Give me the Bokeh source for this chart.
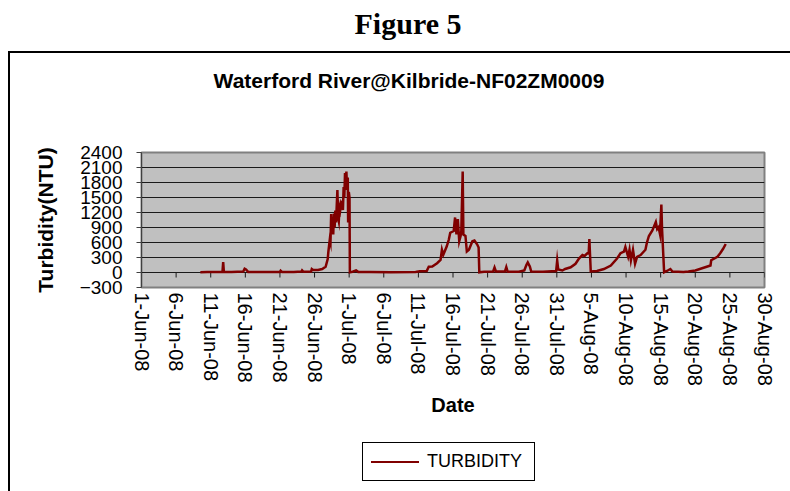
import pandas as pd
from bokeh.plotting import figure
from bokeh.layouts import column, row
from bokeh.models import FixedTicker, Range1d, ColumnDataSource, Div
from bokeh.embed import file_html
from bokeh.resources import INLINE

# ---------------- data ----------------
start_date = "2008-06-01"
end_date = "2008-08-30"

# time of each reading, in days since 1-Jun-2008 00:00
days = [
    8.5, 9.5, 10.5, 11.7, 11.8, 11.9, 13.0, 14.7, 14.9, 15.1, 15.4, 17.0, 19.0,
    20.0, 20.1, 20.3, 22.0, 23.1, 23.2, 23.4, 24.5, 24.6, 24.8, 25.5, 26.1,
    26.6, 26.9, 27.0, 27.2, 27.3, 27.4, 27.5, 27.6, 27.7, 27.8, 27.9, 28.0,
    28.1, 28.3, 28.4, 28.5, 28.6, 28.7, 28.85, 29.0, 29.1, 29.2, 29.3, 29.4,
    29.5, 29.6, 29.7, 29.8, 29.85, 29.95, 30.05, 30.1, 30.5, 31.0, 31.3, 33.0,
    36.0, 39.6, 40.2, 41.2, 41.5, 42.0, 42.7, 43.2, 43.4, 43.6, 44.1, 44.4,
    44.6, 45.1, 45.3, 45.5, 45.7, 45.9, 46.1, 46.2, 46.4, 46.5, 46.8, 47.0,
    47.3, 47.8, 48.1, 48.5, 48.7, 48.8, 49.5, 50.8, 51.0, 51.2, 52.5, 52.7,
    52.9, 54.5, 55.3, 55.6, 55.8, 56.1, 56.3, 58.0, 59.9, 60.05, 60.2, 60.8,
    61.2, 62.0, 62.7, 63.2, 63.7, 64.0, 64.4, 64.6, 64.7, 64.9, 65.8, 66.8,
    67.8, 68.7, 69.2, 69.7, 69.9, 70.3, 70.5, 70.7, 71.0, 71.3, 71.6, 72.1,
    72.8, 73.0, 73.3, 73.8, 74.3, 74.5, 74.7, 74.9, 75.1, 75.2, 75.5, 75.9,
    76.4, 76.7, 77.5, 78.3, 79.0, 80.0, 82.2, 82.3, 83.2, 83.6, 84.0, 84.4,
]
turbidity = [
    5, 8, 8, 12, 210, 12, 10, 20, 75, 60, 12, 10, 12,
    12, 35, 12, 10, 20, 45, 15, 20, 70, 50, 50, 70,
    115, 270, 420, 660, 600, 1170, 800, 1100, 760, 1180, 900, 1240,
    1000, 1650, 1100, 1030, 1300, 1240, 1400, 1370, 1250, 1710, 1500, 1990,
    1800, 2020, 1650, 1900, 1000, 1610, 1500, 5, 15, 40, 12, 8,
    5, 10, 25, 30, 115, 120, 185, 250, 455, 355, 525, 660,
    795, 830, 1100, 760, 1070, 625, 730, 830, 2020, 760, 730, 420,
    455, 625, 640, 560, 500, 5, 15, 20, 100, 20, 20, 110,
    15, 15, 40, 150, 200, 120, 20, 15, 30, 240, 60, 40,
    70, 105, 175, 280, 350, 330, 385, 380, 670, 20, 30, 70,
    140, 280, 385, 420, 510, 315, 455, 245, 455, 175, 315, 350,
    455, 590, 730, 840, 1010, 870, 905, 770, 1360, 870, 5, 30,
    70, 20, 15, 10, 20, 40, 140, 245, 315, 385, 470, 570,
]

tick_dates = ["2008-06-01", "2008-06-06", "2008-06-11", "2008-06-16", "2008-06-21",
              "2008-06-26", "2008-07-01", "2008-07-06", "2008-07-11", "2008-07-16",
              "2008-07-21", "2008-07-26", "2008-07-31", "2008-08-05", "2008-08-10",
              "2008-08-15", "2008-08-20", "2008-08-25", "2008-08-30"]
tick_labels = ["1-Jun-08", "6-Jun-08", "11-Jun-08", "16-Jun-08", "21-Jun-08",
               "26-Jun-08", "1-Jul-08", "6-Jul-08", "11-Jul-08", "16-Jul-08",
               "21-Jul-08", "26-Jul-08", "31-Jul-08", "5-Aug-08", "10-Aug-08",
               "15-Aug-08", "20-Aug-08", "25-Aug-08", "30-Aug-08"]
y_ticks = [-300, 0, 300, 600, 900, 1200, 1500, 1800, 2100, 2400]

figure_title = "Figure 5"
chart_title = "Waterford River@Kilbride-NF02ZM0009"
series_name = "TURBIDITY"

# ---------------- build ----------------
base = pd.Timestamp(start_date)
dates = [base + pd.Timedelta(days=d) for d in days]
src = ColumnDataSource(dict(date=dates, value=turbidity))

tick_ms = [int(pd.Timestamp(t).value // 10**6) for t in tick_dates]

SANS = "Liberation Sans"
SERIF = "Liberation Serif"
RED = "#800000"

p = figure(width=780, height=312, x_axis_type="datetime",
           x_range=Range1d(pd.Timestamp(start_date), pd.Timestamp(end_date)),
           y_range=Range1d(y_ticks[0], y_ticks[-1]),
           output_backend="svg", toolbar_location=None,
           min_border_left=131, min_border_top=39, min_border_right=26,
           min_border_bottom=138, margin=0)

p.background_fill_color = "#C0C0C0"
p.border_fill_color = "white"
p.outline_line_color = "#808080"
p.outline_line_width = 2

# grid
p.xgrid.visible = False
p.ygrid.ticker = FixedTicker(ticks=y_ticks[1:-1])
p.ygrid.grid_line_color = "#1a1a1a"
p.ygrid.grid_line_width = 1

# y axis
p.yaxis.ticker = FixedTicker(ticks=y_ticks)
p.yaxis.major_label_text_font = SANS
p.yaxis.major_label_text_font_size = "19px"
p.yaxis.major_label_text_color = "black"
p.yaxis.major_tick_out = 5
p.yaxis.major_tick_in = 0
p.yaxis.minor_tick_out = 0
p.yaxis.minor_tick_in = 0
p.yaxis.major_label_standoff = 14
p.yaxis.axis_line_color = "#404040"
p.yaxis.major_tick_line_color = "#404040"
p.yaxis.axis_label = "Turbidity(NTU)"
p.yaxis.axis_label_text_font = SANS
p.yaxis.axis_label_text_font_style = "bold"
p.yaxis.axis_label_text_font_size = "21px"
p.yaxis.axis_label_text_color = "black"
p.yaxis.axis_label_standoff = 20

# x axis (labels at the bottom, tick marks drawn on the zero line)
p.xaxis.ticker = FixedTicker(ticks=tick_ms)
p.xaxis.major_label_overrides = {ms: lab for ms, lab in zip(tick_ms, tick_labels)}
p.xaxis.major_label_orientation = -1.5707963267948966
p.xaxis.major_label_text_font = SANS
p.xaxis.major_label_text_font_size = "20px"
p.xaxis.major_label_text_color = "black"
p.xaxis.major_tick_out = 0
p.xaxis.major_tick_in = 0
p.xaxis.minor_tick_out = 0
p.xaxis.minor_tick_in = 0
p.xaxis.axis_line_color = None
p.xaxis.major_label_standoff = 5
p.xaxis.axis_label = "Date"
p.xaxis.axis_label_text_font = SANS
p.xaxis.axis_label_text_font_style = "bold"
p.xaxis.axis_label_text_font_size = "20px"
p.xaxis.axis_label_text_color = "black"
p.xaxis.axis_label_standoff = 5

tick_src = ColumnDataSource(dict(x=[pd.Timestamp(t) for t in tick_dates],
                                 y0=[0] * len(tick_dates),
                                 y1=[-100] * len(tick_dates)))
p.segment(x0="x", x1="x", y0="y0", y1="y1", source=tick_src,
          line_color="#1a1a1a", line_width=1)

p.line("date", "value", source=src, line_color=RED, line_width=2.5,
       line_join="miter")

# ---------------- surrounding page elements ----------------
head = Div(text=figure_title, width=790, height=51, margin=0,
           styles={"font-family": SERIF, "font-weight": "bold",
                   "font-size": "30px", "text-align": "center",
                   "color": "black", "transform": "translate(13px, 3px)"})
box_top = Div(text="", width=782, height=2, margin=(0, 0, 0, 8),
              styles={"background-color": "black"})
box_left = Div(text="", width=2, height=438, margin=(0, 0, 0, 8),
               styles={"background-color": "black"})
title_div = Div(text=chart_title, width=780, height=60, margin=0,
                styles={"font-family": SANS, "font-weight": "bold",
                        "font-size": "21px", "text-align": "center",
                        "color": "black", "transform": "translate(9px, 13px)"})
legend_html = (
    '<div style="margin-left:352px; margin-top:17px; width:173px; height:39px; '
    'border:1px solid black; display:flex; align-items:center; background:white;">'
    '<span style="display:inline-block; width:48px; height:2px; '
    'background:%s; margin-left:8px; margin-right:8px;"></span>'
    '<span style="font-family:\'%s\'; font-size:18px; color:black;">%s</span></div>'
    % (RED, SANS, series_name)
)
legend_div = Div(text=legend_html, width=780, height=66, margin=0)

layout = column(
    head, box_top,
    row(box_left, column(title_div, p, legend_div, spacing=0), spacing=0),
    spacing=0,
)

open("out.html", "w").write(file_html(layout, INLINE))
